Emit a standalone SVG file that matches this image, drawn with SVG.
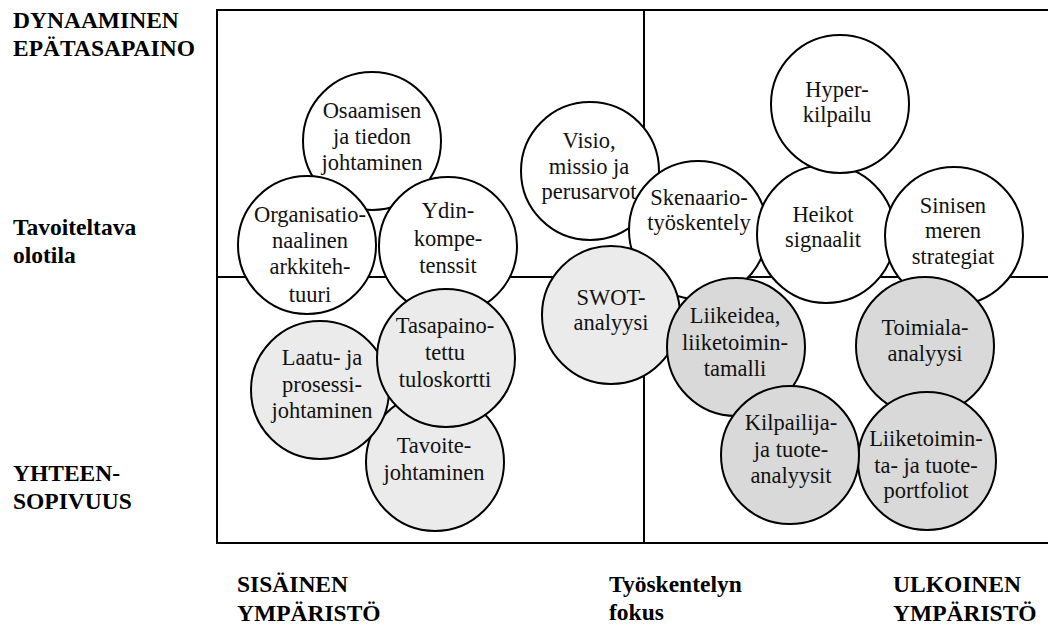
<svg xmlns="http://www.w3.org/2000/svg" width="1048" height="626" viewBox="0 0 1048 626">
<rect width="1048" height="626" fill="#fff"/>
<g id="frame" fill="none" stroke="#000" stroke-width="2">
<rect x="217" y="10" width="840" height="533"/>
<line x1="644" y1="10" x2="644" y2="543"/>
<line x1="217" y1="277" x2="1048" y2="277"/>
</g>
<g id="labels" font-size="23.5" font-weight="bold" fill="#000">
<text font-family="'Liberation Serif', serif" x="13" y="28">DYNAAMINEN</text>
<text font-family="'Liberation Serif', serif" x="13" y="56">EPÄTASAPAINO</text>
<text font-family="'Liberation Serif', serif" x="13" y="235">Tavoiteltava</text>
<text font-family="'Liberation Serif', serif" x="13" y="263">olotila</text>
<text font-family="'Liberation Serif', serif" x="13" y="481">YHTEEN-</text>
<text font-family="'Liberation Serif', serif" x="13" y="509">SOPIVUUS</text>
<text font-family="'Liberation Serif', serif" x="237" y="592">SISÄINEN</text>
<text font-family="'Liberation Serif', serif" x="237" y="621">YMPÄRISTÖ</text>
<text font-family="'Liberation Serif', serif" x="609" y="592">Työskentelyn</text>
<text font-family="'Liberation Serif', serif" x="609" y="620">fokus</text>
<text font-family="'Liberation Serif', serif" x="893" y="592">ULKOINEN</text>
<text font-family="'Liberation Serif', serif" x="893" y="621">YMPÄRISTÖ</text>
</g>
<g id="connectors"></g>
<g id="nodes" stroke-width="2" font-size="22.5" text-anchor="middle">
<g id="osaamisen"><circle stroke="#000" fill="#fff" cx="372" cy="141" r="69"/>
<text font-family="'Liberation Serif', serif" fill="#111" x="372" y="118">Osaamisen</text><text font-family="'Liberation Serif', serif" fill="#111" x="372" y="144">ja tiedon</text><text font-family="'Liberation Serif', serif" fill="#111" x="372" y="170">johtaminen</text></g>
<g id="organisatio"><circle stroke="#000" fill="#fff" cx="307" cy="245" r="69"/>
<text font-family="'Liberation Serif', serif" fill="#111" x="310" y="222">Organisatio-</text><text font-family="'Liberation Serif', serif" fill="#111" x="310" y="248">naalinen</text><text font-family="'Liberation Serif', serif" fill="#111" x="310" y="274">arkkiteh-</text><text font-family="'Liberation Serif', serif" fill="#111" x="310" y="302">tuuri</text></g>
<g id="ydin"><circle stroke="#000" fill="#fff" cx="448" cy="246" r="69"/>
<text font-family="'Liberation Serif', serif" fill="#111" x="448" y="218">Ydin-</text><text font-family="'Liberation Serif', serif" fill="#111" x="448" y="246">kompe-</text><text font-family="'Liberation Serif', serif" fill="#111" x="448" y="273">tenssit</text></g>
<g id="visio"><circle stroke="#000" fill="#fff" cx="590" cy="171" r="69"/>
<text font-family="'Liberation Serif', serif" fill="#111" x="589" y="148">Visio,</text><text font-family="'Liberation Serif', serif" fill="#111" x="589" y="174">missio ja</text><text font-family="'Liberation Serif', serif" fill="#111" x="589" y="199">perusarvot</text></g>
<g id="skenaario"><circle stroke="#000" fill="#fff" cx="698" cy="230" r="69"/>
<text font-family="'Liberation Serif', serif" fill="#111" x="699" y="205">Skenaario-</text><text font-family="'Liberation Serif', serif" fill="#111" x="699" y="230">työskentely</text></g>
<g id="heikot"><circle stroke="#000" fill="#fff" cx="826" cy="234" r="69"/>
<text font-family="'Liberation Serif', serif" fill="#111" x="823" y="222">Heikot</text><text font-family="'Liberation Serif', serif" fill="#111" x="823" y="247">signaalit</text></g>
<g id="hyper"><circle stroke="#000" fill="#fff" cx="840" cy="104" r="69"/>
<text font-family="'Liberation Serif', serif" fill="#111" x="837" y="97">Hyper-</text><text font-family="'Liberation Serif', serif" fill="#111" x="837" y="122">kilpailu</text></g>
<g id="sinisen"><circle stroke="#000" fill="#fff" cx="954" cy="236" r="69"/>
<text font-family="'Liberation Serif', serif" fill="#111" x="953" y="213">Sinisen</text><text font-family="'Liberation Serif', serif" fill="#111" x="953" y="238">meren</text><text font-family="'Liberation Serif', serif" fill="#111" x="953" y="264">strategiat</text></g>
<g id="toimiala"><circle stroke="#000" fill="#d9d9d9" cx="925" cy="346" r="69"/>
<text font-family="'Liberation Serif', serif" fill="#111" x="925" y="335">Toimiala-</text><text font-family="'Liberation Serif', serif" fill="#111" x="925" y="361">analyysi</text></g>
<g id="liiketoiminta"><circle stroke="#000" fill="#d9d9d9" cx="927" cy="461" r="69"/>
<text font-family="'Liberation Serif', serif" fill="#111" x="926" y="446">Liiketoimin-</text><text font-family="'Liberation Serif', serif" fill="#111" x="926" y="473">ta- ja tuote-</text><text font-family="'Liberation Serif', serif" fill="#111" x="926" y="498">portfoliot</text></g>
<g id="swot"><circle stroke="#000" fill="#ebebeb" cx="611" cy="315" r="69"/>
<text font-family="'Liberation Serif', serif" fill="#111" x="611" y="305">SWOT-</text><text font-family="'Liberation Serif', serif" fill="#111" x="611" y="330">analyysi</text></g>
<g id="liikeidea"><circle stroke="#000" fill="#d9d9d9" cx="736" cy="347" r="69"/>
<text font-family="'Liberation Serif', serif" fill="#111" x="735" y="323">Liikeidea,</text><text font-family="'Liberation Serif', serif" fill="#111" x="735" y="350">liiketoimin-</text><text font-family="'Liberation Serif', serif" fill="#111" x="735" y="376">tamalli</text></g>
<g id="kilpailija"><circle stroke="#000" fill="#d9d9d9" cx="790" cy="455" r="69"/>
<text font-family="'Liberation Serif', serif" fill="#111" x="791" y="430">Kilpailija-</text><text font-family="'Liberation Serif', serif" fill="#111" x="791" y="457">ja tuote-</text><text font-family="'Liberation Serif', serif" fill="#111" x="791" y="483">analyysit</text></g>
<g id="tavoite"><circle stroke="#000" fill="#ebebeb" cx="435" cy="462" r="69"/>
<text font-family="'Liberation Serif', serif" fill="#111" x="434" y="453">Tavoite-</text><text font-family="'Liberation Serif', serif" fill="#111" x="434" y="480">johtaminen</text></g>
<g id="laatu"><circle stroke="#000" fill="#ebebeb" cx="320" cy="390" r="69"/>
<text font-family="'Liberation Serif', serif" fill="#111" x="322" y="365">Laatu- ja</text><text font-family="'Liberation Serif', serif" fill="#111" x="322" y="392">prosessi-</text><text font-family="'Liberation Serif', serif" fill="#111" x="322" y="418">johtaminen</text></g>
<g id="tasapaino"><circle stroke="#000" fill="#ebebeb" cx="446" cy="358" r="69"/>
<text font-family="'Liberation Serif', serif" fill="#111" x="445" y="333">Tasapaino-</text><text font-family="'Liberation Serif', serif" fill="#111" x="445" y="360">tettu</text><text font-family="'Liberation Serif', serif" fill="#111" x="445" y="387">tuloskortti</text></g>
</g>
</svg>
